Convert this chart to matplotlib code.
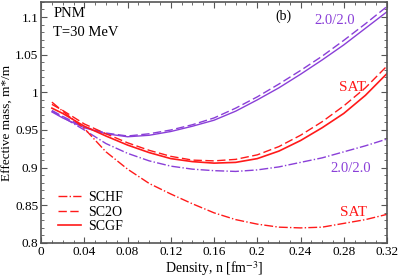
import matplotlib
matplotlib.use("Agg")
import matplotlib.pyplot as plt
from matplotlib.ticker import MultipleLocator

plt.rcParams['font.family'] = ['Liberation Serif', 'DejaVu Serif']
plt.rcParams['mathtext.fontset'] = 'stix'

PURPLE = '#8a3fd8'
RED = '#ff1a1a'

density = [0.01, 0.02, 0.04, 0.06, 0.08, 0.10, 0.12, 0.14, 0.16,
           0.18, 0.20, 0.22, 0.24, 0.26, 0.28, 0.30, 0.32]

# 2.0/2.0 interaction
scgf_20 = [0.974, 0.966, 0.953, 0.945, 0.941, 0.943, 0.948, 0.955, 0.963,
           0.975, 0.990, 1.006, 1.024, 1.043, 1.063, 1.085, 1.107]
sc2o_20 = [0.976, 0.968, 0.954, 0.946, 0.942, 0.945, 0.950, 0.957, 0.966,
           0.979, 0.994, 1.011, 1.029, 1.048, 1.069, 1.091, 1.114]
schf_20 = [0.975, 0.967, 0.950, 0.932, 0.919, 0.909, 0.902, 0.898, 0.896,
           0.895, 0.897, 0.901, 0.907, 0.913, 0.921, 0.929, 0.938]

# SAT interaction
scgf_sat = [0.979, 0.972, 0.955, 0.942, 0.930, 0.920, 0.912, 0.908, 0.906,
            0.907, 0.912, 0.922, 0.936, 0.953, 0.972, 0.996, 1.025]
sc2o_sat = [0.984, 0.976, 0.958, 0.945, 0.933, 0.923, 0.915, 0.910, 0.909,
            0.911, 0.917, 0.928, 0.943, 0.961, 0.982, 1.006, 1.035]
schf_sat = [0.987, 0.975, 0.952, 0.921, 0.898, 0.879, 0.865, 0.852, 0.840,
            0.831, 0.825, 0.821, 0.820, 0.821, 0.826, 0.831, 0.838]

xtick_vals = [0, 0.04, 0.08, 0.12, 0.16, 0.2, 0.24, 0.28, 0.32]
xtick_labels = ['0', '0.04', '0.08', '0.12', '0.16', '0.2', '0.24', '0.28', '0.32']
ytick_vals = [0.8, 0.85, 0.9, 0.95, 1.0, 1.05, 1.1]
ytick_labels = ['0.8', '0.85', '0.9', '0.95', '1', '1.05', '1.1']

fig = plt.figure(figsize=(3.99, 2.78), dpi=100)
ax = fig.add_axes([0.103, 0.126, 0.867, 0.867])

ax.plot(density, schf_20, color=PURPLE, ls='-.', lw=1.0)
ax.plot(density, sc2o_20, color=PURPLE, ls=(0, (6, 2.5)), lw=1.0)
ax.plot(density, scgf_20, color=PURPLE, ls='-', lw=1.0)

ax.plot(density, schf_sat, color=RED, ls='-.', lw=1.0, label='SCHF')
ax.plot(density, sc2o_sat, color=RED, ls=(0, (6, 2.5)), lw=1.0, label='SC2O')
ax.plot(density, scgf_sat, color=RED, ls='-', lw=1.2, label='SCGF')

ax.set_xlim(0, 0.32)
ax.set_ylim(0.8, 1.12)
ax.xaxis.set_minor_locator(MultipleLocator(0.01))
ax.yaxis.set_minor_locator(MultipleLocator(0.01))
ax.set_xticks(xtick_vals)
ax.set_xticklabels(xtick_labels)
ax.set_yticks(ytick_vals)
ax.set_yticklabels(ytick_labels)
ax.tick_params(which='both', direction='in', top=True, right=True,
               labelsize=9.5, color='#555555', pad=2)
ax.tick_params(which='major', length=4)
ax.tick_params(which='minor', length=2)
for sp in ax.spines.values():
    sp.set_color('#555555')
    sp.set_linewidth(1.2)

ax.set_xlabel('Density, n [fm$^{-3}$]', fontsize=10, labelpad=1)
ax.set_ylabel('Effective mass, m*/m', fontsize=9.5)
ax.yaxis.set_label_coords(-0.078, 0.5)

ax.text(0.035, 0.95, 'PNM', transform=ax.transAxes, fontsize=10.5, va='center')
ax.text(0.035, 0.875, 'T=30 MeV', transform=ax.transAxes, fontsize=10.5, va='center')
ax.text(0.70, 0.94, '(b)', transform=ax.transAxes, fontsize=10, va='center', ha='center')
ax.text(0.79, 0.925, '2.0/2.0', transform=ax.transAxes, fontsize=10.5, color=PURPLE, va='center')
ax.text(0.86, 0.645, 'SAT', transform=ax.transAxes, fontsize=11, color=RED, va='center')
ax.text(0.835, 0.31, '2.0/2.0', transform=ax.transAxes, fontsize=10.5, color=PURPLE, va='center')
ax.text(0.865, 0.125, 'SAT', transform=ax.transAxes, fontsize=11, color=RED, va='center')

ax.legend(loc='lower left', frameon=False, fontsize=10, handlelength=1.7,
          handletextpad=0.5, labelspacing=0.12, borderaxespad=0.3,
          bbox_to_anchor=(0.02, 0.0))

fig.savefig('out.png', dpi=100)
